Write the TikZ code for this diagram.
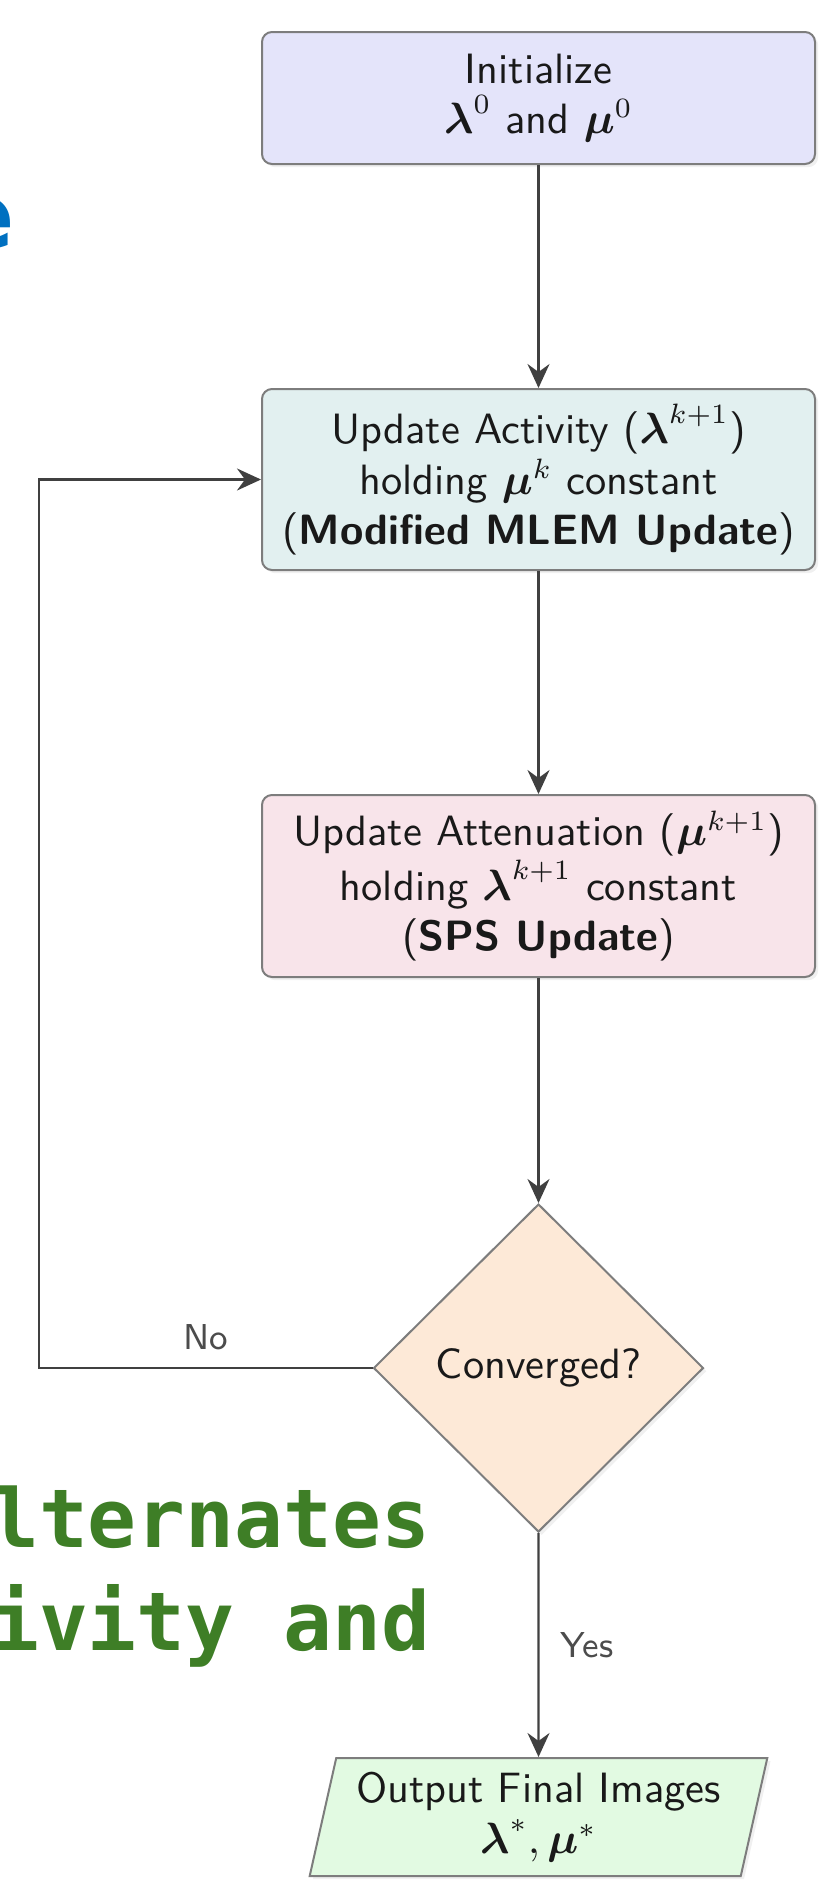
\documentclass[tikz,border=0pt]{standalone}
\usepackage{amsmath, amssymb}
\usepackage{fontspec}
\usepackage{xcolor}
\usepackage{tikz}
\usetikzlibrary{arrows.meta, shapes.geometric, shadows}

\newfontfamily\slidefont{DejaVu Sans}
\newfontfamily\slidemono{DejaVu Sans Mono}

\definecolor{initfill}{RGB}{228,228,250}
\definecolor{actfill}{RGB}{226,240,240}
\definecolor{attfill}{RGB}{248,228,234}
\definecolor{convfill}{RGB}{253,233,215}
\definecolor{outfill}{RGB}{226,250,226}
\definecolor{edgegray}{RGB}{64,64,64}
\definecolor{bordergray}{RGB}{125,125,125}
\definecolor{slideblue}{RGB}{0,112,192}
\definecolor{slidegreen}{RGB}{62,126,38}

\tikzset{
  flowbox/.style={draw=bordergray, line width=0.5pt, rounded corners=2.5pt,
    align=center, inner sep=0pt, text=black!90,
    font=\sffamily\fontsize{10.6}{12.6}\selectfont,
    drop shadow={shadow xshift=0.8pt, shadow yshift=-0.8pt, opacity=0.12}},
  flowarrow/.style={draw=edgegray, line width=0.55pt,
    -{Stealth[length=6pt, width=5.5pt, inset=2pt]}},
  flowlabel/.style={font=\sffamily\fontsize{9}{10.8}\selectfont, text=black!70}
}

\begin{document}
\begin{tikzpicture}[x=0.25pt, y=-0.25pt]
\clip[use as bounding box] (0,0) rectangle (826,1887);

% slide text behind the chart
\node[anchor=base east, inner sep=0pt, text=slideblue,
  font=\slidefont\bfseries\fontsize{23}{27}\selectfont] (slidee) at (16,248) {e};
\node[anchor=base east, inner sep=0pt, text=slidegreen,
  font=\slidemono\bfseries\fontsize{20.3}{24}\selectfont] (slidealt) at (431,1547) {alternates};
\node[anchor=base east, inner sep=0pt, text=slidegreen,
  font=\slidemono\bfseries\fontsize{20.3}{24}\selectfont] (slideact) at (431,1650) {activity and};

% steps
\node[flowbox, fill=initfill, minimum width=138.25pt, minimum height=33pt]
  (init) at (538.5,98) {Initialize\\ $\boldsymbol{\lambda}^0$ and $\boldsymbol{\mu}^0$};
\node[flowbox, fill=actfill, minimum width=138.25pt, minimum height=45.25pt]
  (act) at (538.5,479.5) {Update Activity ($\boldsymbol{\lambda}^{k+1}$)\\ holding $\boldsymbol{\mu}^k$ constant\\ (\textbf{Modified MLEM Update})};
\node[flowbox, fill=attfill, minimum width=138.25pt, minimum height=45.5pt]
  (att) at (538.5,886) {Update Attenuation ($\boldsymbol{\mu}^{k+1}$)\\ holding $\boldsymbol{\lambda}^{k+1}$ constant\\ (\textbf{SPS Update})};
\node[flowbox, fill=convfill, shape=diamond, rounded corners=0pt, shape aspect=1,
  minimum width=82.5pt, minimum height=82pt] (conv) at (538.5,1368) {Converged?};
\node[flowbox, fill=outfill, shape=trapezium, rounded corners=0pt,
  trapezium left angle=75, trapezium right angle=105, trapezium stretches=true,
  minimum width=114.5pt, minimum height=29.5pt]
  (out) at (538.5,1817) {Output Final Images\\ $\boldsymbol{\lambda}^*, \boldsymbol{\mu}^*$};

\coordinate (back) at (39,1368);

% connectors
\draw[flowarrow] (init) -- (act);
\draw[flowarrow] (act) -- (att);
\draw[flowarrow] (att) -- (conv);
\draw[flowarrow] (conv.west) -- node[flowlabel, above, pos=0.5, yshift=1pt] {No} (back) |- (act.west);
\draw[flowarrow] (conv.south) -- node[flowlabel, right, xshift=2pt] {Yes} (out.north);
\end{tikzpicture}
\end{document}
